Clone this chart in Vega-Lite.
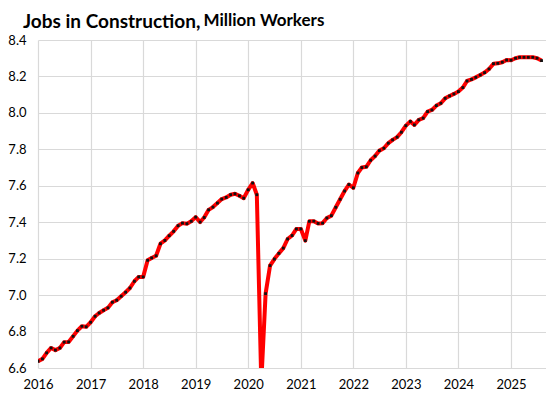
{
  "$schema": "https://vega.github.io/schema/vega-lite/v6.json",
  "width": 508,
  "height": 328,
  "autosize": {"type": "none"},
  "padding": {"left": 38, "top": 40, "right": 0, "bottom": 32},
  "background": "white",
  "title": {
    "text": "Jobs in Construction,",
    "anchor": "start",
    "frame": "group",
    "dx": -15,
    "dy": 21,
    "offset": 0,
    "font": "Lato",
    "fontSize": 19,
    "fontWeight": "bold",
    "color": "#000000"
  },
  "config": {
    "view": {"stroke": null},
    "axis": {
      "labelFont": "Lato",
      "labelFontSize": 13,
      "labelColor": "#000000",
      "grid": true,
      "gridColor": "#d9d9d9",
      "gridWidth": 1.2,
      "domain": false,
      "ticks": false
    }
  },
  "data": {
    "values": [
      {"date": "2016-01-01", "jobs": 6.637}, {"date": "2016-02-01", "jobs": 6.650}, {"date": "2016-03-01", "jobs": 6.683}, {"date": "2016-04-01", "jobs": 6.710},
      {"date": "2016-05-01", "jobs": 6.698}, {"date": "2016-06-01", "jobs": 6.710}, {"date": "2016-07-01", "jobs": 6.742}, {"date": "2016-08-01", "jobs": 6.743},
      {"date": "2016-09-01", "jobs": 6.774}, {"date": "2016-10-01", "jobs": 6.805}, {"date": "2016-11-01", "jobs": 6.829}, {"date": "2016-12-01", "jobs": 6.826},
      {"date": "2017-01-01", "jobs": 6.851}, {"date": "2017-02-01", "jobs": 6.884}, {"date": "2017-03-01", "jobs": 6.902}, {"date": "2017-04-01", "jobs": 6.917},
      {"date": "2017-05-01", "jobs": 6.930}, {"date": "2017-06-01", "jobs": 6.961}, {"date": "2017-07-01", "jobs": 6.972}, {"date": "2017-08-01", "jobs": 6.994},
      {"date": "2017-09-01", "jobs": 7.016}, {"date": "2017-10-01", "jobs": 7.039}, {"date": "2017-11-01", "jobs": 7.076}, {"date": "2017-12-01", "jobs": 7.100},
      {"date": "2018-01-01", "jobs": 7.100}, {"date": "2018-02-01", "jobs": 7.191}, {"date": "2018-03-01", "jobs": 7.204}, {"date": "2018-04-01", "jobs": 7.216},
      {"date": "2018-05-01", "jobs": 7.282}, {"date": "2018-06-01", "jobs": 7.300}, {"date": "2018-07-01", "jobs": 7.326}, {"date": "2018-08-01", "jobs": 7.350},
      {"date": "2018-09-01", "jobs": 7.381}, {"date": "2018-10-01", "jobs": 7.395}, {"date": "2018-11-01", "jobs": 7.392}, {"date": "2018-12-01", "jobs": 7.405},
      {"date": "2019-01-01", "jobs": 7.428}, {"date": "2019-02-01", "jobs": 7.401}, {"date": "2019-03-01", "jobs": 7.426}, {"date": "2019-04-01", "jobs": 7.468},
      {"date": "2019-05-01", "jobs": 7.483}, {"date": "2019-06-01", "jobs": 7.505}, {"date": "2019-07-01", "jobs": 7.527}, {"date": "2019-08-01", "jobs": 7.536},
      {"date": "2019-09-01", "jobs": 7.551}, {"date": "2019-10-01", "jobs": 7.556}, {"date": "2019-11-01", "jobs": 7.545}, {"date": "2019-12-01", "jobs": 7.532},
      {"date": "2020-01-01", "jobs": 7.578}, {"date": "2020-02-01", "jobs": 7.615}, {"date": "2020-03-01", "jobs": 7.551}, {"date": "2020-04-01", "jobs": 6.520},
      {"date": "2020-05-01", "jobs": 7.008}, {"date": "2020-06-01", "jobs": 7.162}, {"date": "2020-07-01", "jobs": 7.198}, {"date": "2020-08-01", "jobs": 7.229},
      {"date": "2020-09-01", "jobs": 7.258}, {"date": "2020-10-01", "jobs": 7.308}, {"date": "2020-11-01", "jobs": 7.327}, {"date": "2020-12-01", "jobs": 7.363},
      {"date": "2021-01-01", "jobs": 7.363}, {"date": "2021-02-01", "jobs": 7.299}, {"date": "2021-03-01", "jobs": 7.405}, {"date": "2021-04-01", "jobs": 7.406},
      {"date": "2021-05-01", "jobs": 7.393}, {"date": "2021-06-01", "jobs": 7.395}, {"date": "2021-07-01", "jobs": 7.423}, {"date": "2021-08-01", "jobs": 7.436},
      {"date": "2021-09-01", "jobs": 7.482}, {"date": "2021-10-01", "jobs": 7.526}, {"date": "2021-11-01", "jobs": 7.571}, {"date": "2021-12-01", "jobs": 7.607},
      {"date": "2022-01-01", "jobs": 7.589}, {"date": "2022-02-01", "jobs": 7.670}, {"date": "2022-03-01", "jobs": 7.700}, {"date": "2022-04-01", "jobs": 7.704},
      {"date": "2022-05-01", "jobs": 7.740}, {"date": "2022-06-01", "jobs": 7.763}, {"date": "2022-07-01", "jobs": 7.793}, {"date": "2022-08-01", "jobs": 7.806},
      {"date": "2022-09-01", "jobs": 7.834}, {"date": "2022-10-01", "jobs": 7.852}, {"date": "2022-11-01", "jobs": 7.867}, {"date": "2022-12-01", "jobs": 7.894},
      {"date": "2023-01-01", "jobs": 7.930}, {"date": "2023-02-01", "jobs": 7.953}, {"date": "2023-03-01", "jobs": 7.934}, {"date": "2023-04-01", "jobs": 7.962},
      {"date": "2023-05-01", "jobs": 7.971}, {"date": "2023-06-01", "jobs": 8.007}, {"date": "2023-07-01", "jobs": 8.016}, {"date": "2023-08-01", "jobs": 8.040},
      {"date": "2023-09-01", "jobs": 8.053}, {"date": "2023-10-01", "jobs": 8.080}, {"date": "2023-11-01", "jobs": 8.093}, {"date": "2023-12-01", "jobs": 8.104},
      {"date": "2024-01-01", "jobs": 8.117}, {"date": "2024-02-01", "jobs": 8.139}, {"date": "2024-03-01", "jobs": 8.175}, {"date": "2024-04-01", "jobs": 8.184},
      {"date": "2024-05-01", "jobs": 8.195}, {"date": "2024-06-01", "jobs": 8.208}, {"date": "2024-07-01", "jobs": 8.221}, {"date": "2024-08-01", "jobs": 8.241},
      {"date": "2024-09-01", "jobs": 8.270}, {"date": "2024-10-01", "jobs": 8.272}, {"date": "2024-11-01", "jobs": 8.278}, {"date": "2024-12-01", "jobs": 8.290},
      {"date": "2025-01-01", "jobs": 8.289}, {"date": "2025-02-01", "jobs": 8.300}, {"date": "2025-03-01", "jobs": 8.305}, {"date": "2025-04-01", "jobs": 8.305},
      {"date": "2025-05-01", "jobs": 8.305}, {"date": "2025-06-01", "jobs": 8.305}, {"date": "2025-07-01", "jobs": 8.300}, {"date": "2025-08-01", "jobs": 8.287}
    ]
  },
  "encoding": {
    "x": {
      "field": "date",
      "type": "temporal",
      "scale": {
        "type": "utc",
        "domain": [{"year": 2016, "month": 1, "date": 1, "utc": true}, {"year": 2025, "month": 9, "date": 1, "utc": true}]
      },
      "axis": {
        "title": null,
        "format": "%Y",
        "values": [
          {"year": 2016, "month": 1, "date": 1, "utc": true}, {"year": 2017, "month": 1, "date": 1, "utc": true},
          {"year": 2018, "month": 1, "date": 1, "utc": true}, {"year": 2019, "month": 1, "date": 1, "utc": true},
          {"year": 2020, "month": 1, "date": 1, "utc": true}, {"year": 2021, "month": 1, "date": 1, "utc": true},
          {"year": 2022, "month": 1, "date": 1, "utc": true}, {"year": 2023, "month": 1, "date": 1, "utc": true},
          {"year": 2024, "month": 1, "date": 1, "utc": true}, {"year": 2025, "month": 1, "date": 1, "utc": true}
        ],
        "labelPadding": 10,
        "labelAlign": "center"
      }
    },
    "y": {
      "field": "jobs",
      "type": "quantitative",
      "scale": {"domain": [6.6, 8.4], "zero": false, "nice": false},
      "axis": {
        "values": [6.6, 6.8, 7.0, 7.2, 7.4, 7.6, 7.8, 8.0, 8.2, 8.4],
        "format": ".1f",
        "labelPadding": 12,
        "title": "Million Workers",
        "titleAngle": 0,
        "titleX": 165,
        "titleY": -15,
        "titleAlign": "left",
        "titleBaseline": "alphabetic",
        "titleFont": "Lato",
        "titleFontSize": 17,
        "titleFontWeight": "bold",
        "titleColor": "#000000"
      }
    }
  },
  "layer": [
    {"mark": {"type": "line", "color": "#ff0000", "strokeWidth": 4, "clip": true, "strokeJoin": "round"}},
    {"mark": {"type": "square", "color": "#111111", "size": 8, "opacity": 1, "clip": true}}
  ]
}
